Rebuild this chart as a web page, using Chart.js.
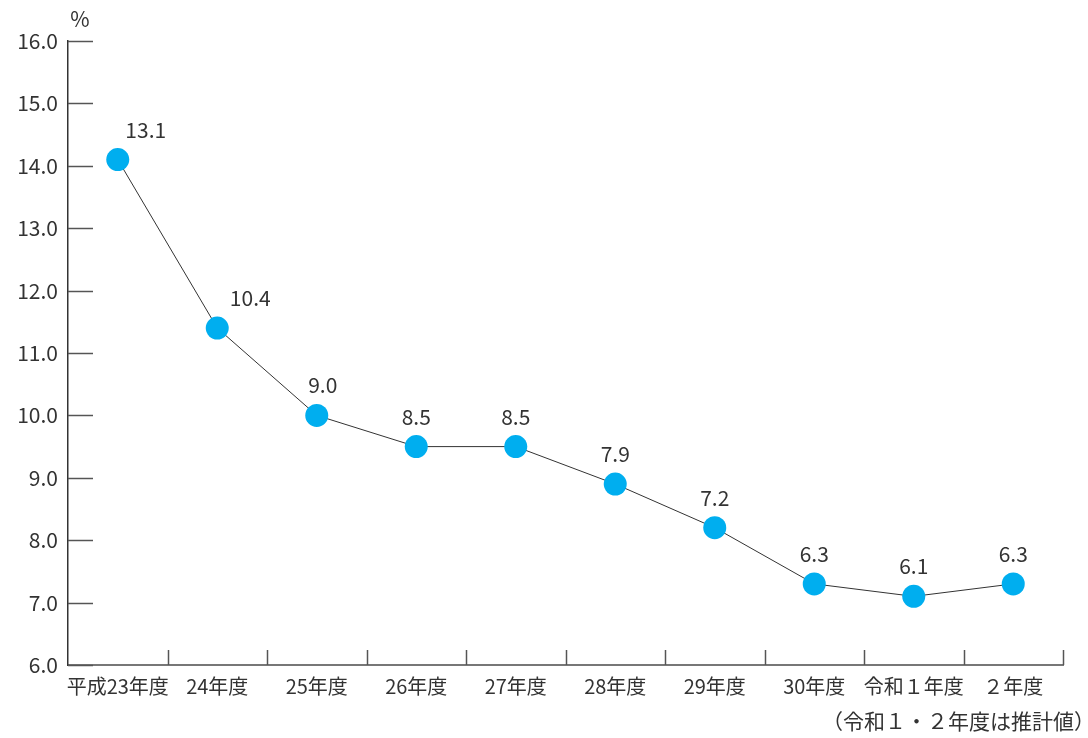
<!DOCTYPE html>
<html>
<head>
<meta charset="utf-8">
<script src="https://cdn.jsdelivr.net/npm/chart.js@4"></script>
<style>
  body { margin: 0; background: #fff; }
  #wrap { position: relative; width: 1088px; height: 738px; }
</style>
</head>
<body>
<div id="wrap"><canvas id="chart" width="1088" height="738"></canvas></div>
<script>
const categories = ['平成23年度', '24年度', '25年度', '26年度', '27年度', '28年度', '29年度', '30年度', '令和１年度', '２年度'];
const rates = [13.1, 10.4, 9.0, 8.5, 8.5, 7.9, 7.2, 6.3, 6.1, 6.3];
const yTickLabels = ['6.0', '7.0', '8.0', '9.0', '10.0', '11.0', '12.0', '13.0', '14.0', '15.0', '16.0'];
const unitLabel = '%';
const footnote = '（令和１・２年度は推計値）';

const FONT = '"Noto Sans CJK JP", "Noto Sans", sans-serif';
const TEXT = '#333';

// value labels above the points, first two nudged to the right like the original
const labelShift = [28, 33, 6, 0, 0, 0, 0, 0, 0, 0];

const extras = {
  id: 'extras',
  afterDraw(chart) {
    const ctx = chart.ctx;
    const x = chart.scales.x, y = chart.scales.y;
    const area = chart.chartArea;
    const step = x.getPixelForValue(1) - x.getPixelForValue(0);
    ctx.save();

    // y ticks point into the plot
    ctx.strokeStyle = '#555';
    ctx.lineWidth = 1.5;
    y.ticks.forEach(t => {
      const py = Math.round(y.getPixelForValue(t.value)) + 0.5;
      ctx.beginPath();
      ctx.moveTo(area.left, py);
      ctx.lineTo(area.left + 25, py);
      ctx.stroke();
    });

    // x ticks between categories, pointing up
    for (let i = 0; i < categories.length; i++) {
      const px = Math.round(x.getPixelForValue(i) + step / 2) + 0.5;
      ctx.beginPath();
      ctx.moveTo(px, area.bottom);
      ctx.lineTo(px, area.bottom - 15);
      ctx.stroke();
    }

    // value labels
    ctx.fillStyle = TEXT;
    ctx.font = '21px ' + FONT;
    ctx.textAlign = 'center';
    ctx.textBaseline = 'middle';
    const meta = chart.getDatasetMeta(0);
    meta.data.forEach((pt, i) => {
      ctx.fillText(rates[i].toFixed(1), pt.x + labelShift[i], pt.y - 30);
    });

    // unit and footnote
    ctx.fillText(unitLabel, area.left + 12, 19);
    ctx.textAlign = 'right';
    ctx.fillText(footnote, 1095, 721);
    ctx.restore();
  }
};

new Chart(document.getElementById('chart'), {
  type: 'line',
  data: {
    labels: categories,
    datasets: [{
      data: rates,
      borderColor: '#333',
      borderWidth: 1,
      pointRadius: 11.5,
      pointHoverRadius: 11.5,
      pointBackgroundColor: '#00AEEF',
      pointBorderColor: '#00AEEF',
      pointBorderWidth: 0,
      tension: 0
    }]
  },
  options: {
    responsive: false,
    animation: false,
    layout: { padding: { top: 41, right: 25, left: 0, bottom: 0 } },
    plugins: { legend: { display: false }, tooltip: { enabled: false } },
    scales: {
      x: {
        offset: true,
        grid: { display: false, drawTicks: false },
        border: { color: '#777', width: 2 },
        ticks: { color: TEXT, font: { family: FONT, size: 20 }, padding: 9, maxRotation: 0, autoSkip: false },
        afterFit(s) { s.height = 73; }
      },
      y: {
        min: 5,
        max: 15,
        grid: { display: false, drawTicks: false },
        border: { color: '#333', width: 1.5 },
        ticks: {
          stepSize: 1,
          color: TEXT,
          font: { family: FONT, size: 21 },
          padding: 10,
          callback: (v, i) => yTickLabels[i]
        },
        afterFit(s) { s.width = 68; }
      }
    }
  },
  plugins: [extras]
});
</script>
</body>
</html>
